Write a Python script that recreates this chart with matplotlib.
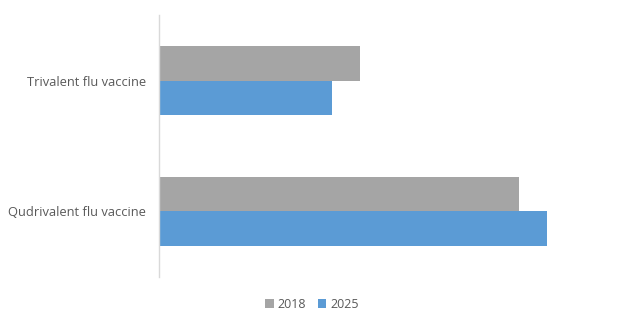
import numpy as np
import matplotlib.pyplot as plt

# chart values (relative bar lengths, no scale shown in the original)
categories = ["Trivalent flu vaccine", "Qudrivalent flu vaccine"]
series_names = ["2018", "2025"]
values_2018 = [201.5, 360.5]
values_2025 = [173.5, 388.5]

colors = ["#A5A5A5", "#5B9BD5"]

plt.rcParams['font.family'] = ['Open Sans', 'DejaVu Sans']

fig = plt.figure(figsize=(6.24, 3.24), dpi=100)
ax = fig.add_axes([158.5 / 624, 1 - 277 / 324, (600 - 158.5) / 624, 262 / 324])

y = np.arange(len(categories))
h = 0.26
ax.barh(y - h / 2, values_2018, height=h, color=colors[0], label=series_names[0])
ax.barh(y + h / 2, values_2025, height=h, color=colors[1], label=series_names[1])

ax.set_xlim(0, 600 - 158.5)
ax.set_ylim(len(categories) - 0.5, -0.5)
ax.set_yticks(y)
ax.set_yticklabels(categories, fontsize=9.3, color="#595959")
ax.tick_params(axis='y', length=0, pad=9)
ax.set_xticks([])

for side in ["top", "right", "bottom"]:
    ax.spines[side].set_visible(False)
ax.spines["left"].set_color("#D9D9D9")
ax.spines["left"].set_linewidth(1)

leg = fig.legend(loc="center", bbox_to_anchor=(0.5, 1 - 304 / 324), ncol=2,
                 frameon=False, fontsize=9, handlelength=0.7, handleheight=0.7,
                 handletextpad=0.3, columnspacing=0.9)
for t in leg.get_texts():
    t.set_color("#595959")

fig.savefig("out.png", dpi=100)
